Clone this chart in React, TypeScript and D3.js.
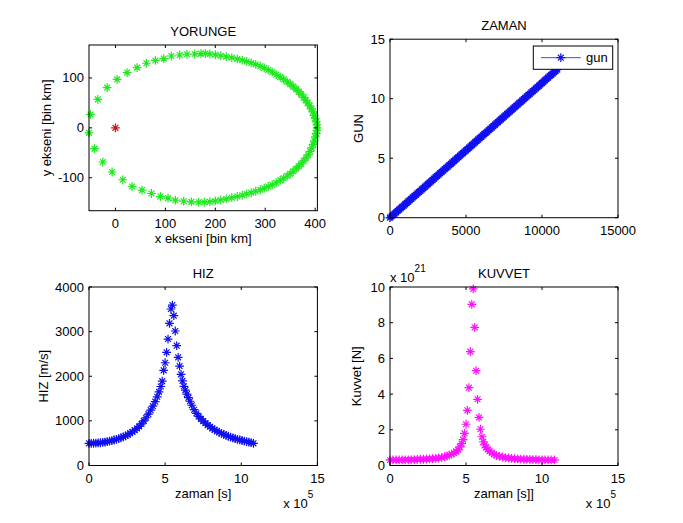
import React from 'react';
import * as d3 from 'd3';

const W = 683;
const H = 523;
const FONT = '"Liberation Sans", Arial, Helvetica, sans-serif';

// ---------- YORUNGE (orbit), thousand km ----------
const orbitX = [
  404, 403.5, 402, 400, 398, 395.5, 392.5, 389, 385, 381, 377, 372, 367, 362, 356, 350, 344, 337, 330, 322,
  314, 306, 298, 290, 281, 272, 263, 254, 244, 233, 222, 211, 200, 189, 180,
  171.3, 158.7, 143.3, 128.7, 112, 96.7, 80, 62, 43.3, 23.3, 3.3, -16.7, -35.3, -50, -53,
  -42, -25.3, -6.7, 14.7, 33.3, 53.3, 72, 90, 105.3, 120, 136.7, 152, 166.7,
  178, 189, 200, 211, 222, 233, 244, 254, 263, 272, 281, 290, 298, 306, 314, 322, 330, 337, 344, 350,
  356, 362, 367, 372, 377, 382, 386, 390, 393, 396, 398.5, 400.5, 402, 403.5,
];
const orbitY = [
  0, 6, 12, 19, 25, 32, 38, 44, 50, 55.5, 61, 67, 72.5, 77.5, 82.5, 87.5, 92, 97, 101.5, 106.5,
  111.5, 116, 120, 123.5, 127, 130, 133, 135.5, 138, 140.5, 142.5, 144.5, 146.5, 148, 149,
  148.8, 148, 147.5, 146, 144, 138.8, 135, 129.4, 120.7, 110.7, 97, 80.5, 57, 26.8, -10,
  -41.6, -68.4, -88.5, -104, -117.5, -124.7, -131.5, -137.6, -140.8, -145, -147, -148.3, -149,
  -149, -148, -146.5, -144.5, -142.5, -140, -137.5, -135, -132.5, -130, -127, -124, -121, -117.5, -114, -110, -105, -101, -96.5, -92,
  -87, -82, -77, -72, -66, -60, -54, -47, -40, -33, -26, -18, -11, -5,
];
const earthX = [0];
const earthY = [0];

// ---------- ZAMAN ----------
const zamanStep = [
  0, 100, 200, 300, 400, 500, 600, 700, 800, 900, 1000, 1100, 1200, 1300, 1400, 1500, 1600, 1700, 1800, 1900,
  2000, 2100, 2200, 2300, 2400, 2500, 2600, 2700, 2800, 2900, 3000, 3100, 3200, 3300, 3400, 3500, 3600, 3700, 3800, 3900,
  4000, 4100, 4200, 4300, 4400, 4500, 4600, 4700, 4800, 4900, 5000, 5100, 5200, 5300, 5400, 5500, 5600, 5700, 5800, 5900,
  6000, 6100, 6200, 6300, 6400, 6500, 6600, 6700, 6800, 6900, 7000, 7100, 7200, 7300, 7400, 7500, 7600, 7700, 7800, 7900,
  8000, 8100, 8200, 8300, 8400, 8500, 8600, 8700, 8800, 8900, 9000, 9100, 9200, 9300, 9400, 9500, 9600, 9700, 9800, 9900,
  10000, 10100, 10200, 10300, 10400, 10500, 10600, 10700, 10800, 10900, 11000,
];
const zamanGun = [
  0, 0.11, 0.23, 0.34, 0.45, 0.57, 0.68, 0.79, 0.91, 1.02, 1.13, 1.25, 1.36, 1.47, 1.58, 1.7, 1.81, 1.92, 2.04, 2.15,
  2.26, 2.38, 2.49, 2.6, 2.72, 2.83, 2.94, 3.06, 3.17, 3.28, 3.4, 3.51, 3.62, 3.74, 3.85, 3.96, 4.08, 4.19, 4.3, 4.41,
  4.53, 4.64, 4.75, 4.87, 4.98, 5.09, 5.21, 5.32, 5.43, 5.55, 5.66, 5.77, 5.89, 6.0, 6.11, 6.23, 6.34, 6.45, 6.57, 6.68,
  6.79, 6.91, 7.02, 7.13, 7.24, 7.36, 7.47, 7.58, 7.7, 7.81, 7.92, 8.04, 8.15, 8.26, 8.38, 8.49, 8.6, 8.72, 8.83, 8.94,
  9.06, 9.17, 9.28, 9.4, 9.51, 9.62, 9.74, 9.85, 9.96, 10.07, 10.19, 10.3, 10.41, 10.53, 10.64, 10.75, 10.87, 10.98, 11.09, 11.21,
  11.32, 11.43, 11.55, 11.66, 11.77, 11.89, 12.0, 12.11, 12.23, 12.34, 12.45,
];

// ---------- HIZ (speed), time in s ----------
const hizT = [
  0, 15000, 30000, 45000, 60000, 75000, 90000, 105000, 120000, 135000, 150000, 165000, 180000, 195000, 210000,
  225000, 240000, 255000, 270000, 285000, 300000, 315000, 330000, 345000, 360000, 375000, 390000, 405000,
  420000, 435000, 448000, 460000, 471500, 481000,
  490500, 500000, 509500, 519000, 528500, 538000, 547500, 557000, 566500, 576000, 585500, 595000, 604500,
  614000, 623500, 633000, 643000, 653000, 663000, 675000, 690000, 705000, 720000, 735000, 750000, 765000,
  780000, 795000, 810000, 825000, 840000, 855000, 870000, 885000, 900000, 915000, 930000, 945000, 960000,
  975000, 990000, 1005000, 1020000, 1035000, 1050000, 1065000, 1080000,
];
const hizV = [
  497, 497, 499, 501, 505, 510, 517, 525, 534, 545, 557, 571, 587, 604, 622,
  643, 666, 692, 722, 755, 790, 830, 875, 935, 1000, 1070, 1150, 1240,
  1330, 1430, 1540, 1650, 1770, 1890,
  2133, 2303, 2536, 2834, 3186, 3507, 3596, 3357, 3014, 2685, 2424, 2229, 2043,
  1895, 1775, 1690, 1600, 1520, 1440, 1350, 1250, 1170, 1100, 1045, 995, 950,
  905, 868, 832, 800, 770, 745, 720, 697, 675, 655, 636, 618, 602,
  587, 573, 560, 548, 537, 525, 512, 497,
];

// ---------- KUVVET (force), N ----------
const kuvvetT = [
  0, 20000, 40000, 60000, 80000, 100000, 120000, 140000, 160000, 180000, 200000, 220000, 240000, 260000, 280000,
  300000, 320000, 340000, 360000, 375000, 390000, 405000, 420000, 435000, 448000, 460000, 471500, 481000,
  490500, 500000, 509500, 519000, 528500, 538000, 547500, 557000, 566500, 576000, 585500, 595000, 604500,
  614000, 623500, 633000, 643000, 655000, 670000, 685000, 700000, 720000, 740000, 760000, 780000, 800000,
  820000, 840000, 860000, 880000, 900000, 920000, 940000, 960000, 980000, 1000000, 1020000, 1040000, 1060000, 1083000,
];
const kuvvetF = [
  0.31e21, 0.31e21, 0.31e21, 0.31e21, 0.31e21, 0.32e21, 0.32e21, 0.32e21, 0.33e21, 0.34e21, 0.35e21, 0.35e21, 0.36e21, 0.37e21, 0.38e21,
  0.4e21, 0.42e21, 0.44e21, 0.49e21, 0.53e21, 0.58e21, 0.64e21, 0.7e21, 0.78e21, 0.88e21, 1.04e21, 1.22e21, 1.45e21,
  1.8e21, 2.31e21, 3.09e21, 4.36e21, 6.38e21, 9.03e21, 9.89e21, 7.74e21, 5.31e21, 3.71e21, 2.7e21, 2.03e21, 1.61e21,
  1.33e21, 1.15e21, 1.0e21, 0.9e21, 0.8e21, 0.7e21, 0.63e21, 0.57e21, 0.51e21, 0.47e21, 0.44e21, 0.42e21, 0.4e21,
  0.38e21, 0.37e21, 0.36e21, 0.35e21, 0.34e21, 0.34e21, 0.33e21, 0.33e21, 0.32e21, 0.32e21, 0.31e21, 0.31e21, 0.31e21, 0.31e21,
];

// tick values
const orbitXTicks = [0, 100, 200, 300, 400];
const orbitYTicks = [-100, 0, 100];
const zamanXTicks = [0, 5000, 10000, 15000];
const zamanYTicks = [0, 5, 10, 15];
const timeTicks = [0, 5e5, 10e5, 15e5];
const hizYTicks = [0, 1000, 2000, 3000, 4000];
const kuvvetYTicks = [0, 2e21, 4e21, 6e21, 8e21, 10e21];

const GREEN = '#1ee81e';
const RED = '#d41414';
const BLUE = '#1010f0';
const MAGENTA = '#ff10ff';

const starPath = (r = 4.4) => {
  const d = r * 0.66;
  return `M${-r},0H${r}M0,${-r}V${r}M${-d},${-d}L${d},${d}M${-d},${d}L${d},${-d}`;
};
const STAR = starPath();

type Box = { x0: number; x1: number; y0: number; y1: number };

function Stars({ xs, ys, x, y, color, sw = 1.2 }: any) {
  return (
    <g stroke={color} strokeWidth={sw} fill="none">
      {xs.map((v: number, i: number) => (
        <path key={i} d={STAR} transform={`translate(${x(v)},${y(ys[i])})`} />
      ))}
    </g>
  );
}

function Panel({ box, xDomain, yDomain, xTicks, yTicks, xFmt, yFmt, title, xlabel, ylabel, ylabelX, render }: any) {
  const b: Box = box;
  const x = d3.scaleLinear().domain(xDomain).range([b.x0, b.x1]);
  const y = d3.scaleLinear().domain(yDomain).range([b.y1, b.y0]);
  const tl = 3;
  return (
    <g fontFamily={FONT} fontSize={13} fill="#000">
      <defs>
        <clipPath id={`clip-${title}`}>
          <rect x={b.x0 - 6} y={b.y0 - 6} width={b.x1 - b.x0 + 12} height={b.y1 - b.y0 + 12} />
        </clipPath>
      </defs>
      <rect x={b.x0} y={b.y0} width={b.x1 - b.x0} height={b.y1 - b.y0} fill="#fff" />
      <g clipPath={`url(#clip-${title})`}>{render(x, y)}</g>
      <rect x={b.x0} y={b.y0} width={b.x1 - b.x0} height={b.y1 - b.y0} fill="none" stroke="#000" strokeWidth={1} />
      {xTicks.map((t: number) => (
        <g key={'x' + t}>
          <line x1={x(t)} x2={x(t)} y1={b.y1} y2={b.y1 - tl} stroke="#000" />
          <line x1={x(t)} x2={x(t)} y1={b.y0} y2={b.y0 + tl} stroke="#000" />
          <text x={x(t)} y={b.y1 + 17} textAnchor="middle">{xFmt(t)}</text>
        </g>
      ))}
      {yTicks.map((t: number) => (
        <g key={'y' + t}>
          <line x1={b.x0} x2={b.x0 + tl} y1={y(t)} y2={y(t)} stroke="#000" />
          <line x1={b.x1} x2={b.x1 - tl} y1={y(t)} y2={y(t)} stroke="#000" />
          <text x={b.x0 - 5} y={y(t) + 4.5} textAnchor="end">{yFmt(t)}</text>
        </g>
      ))}
      <text x={(b.x0 + b.x1) / 2} y={b.y0 - 9.5} textAnchor="middle">{title}</text>
      {xlabel && (
        <text x={(b.x0 + b.x1) / 2} y={b.y1 + 32.5} textAnchor="middle">{xlabel}</text>
      )}
      {ylabel && (
        <text transform={`translate(${ylabelX},${(b.y0 + b.y1) / 2}) rotate(-90)`} textAnchor="middle">{ylabel}</text>
      )}
    </g>
  );
}

export default function App() {
  const p1: Box = { x0: 89, x1: 317.4, y0: 45, y1: 210.7 };
  const p2: Box = { x0: 390, x1: 618, y0: 39.2, y1: 217.7 };
  const p3: Box = { x0: 89, x1: 317.4, y0: 287, y1: 465.5 };
  const p4: Box = { x0: 390, x1: 618, y0: 287, y1: 465.5 };
  const fmt = (v: number) => String(v);
  const tFmt = (v: number) => String(v / 1e5);
  const fFmt = (v: number) => String(Math.round(v / 1e21));

  return (
    <svg width={W} height={H} style={{ position: 'absolute', left: 0, top: 0, background: '#fff' }}>
      <rect width={W} height={H} fill="#fff" />
      <Panel
        box={p1}
        xDomain={[-53, 404.5]}
        yDomain={[-166, 166]}
        xTicks={orbitXTicks}
        yTicks={orbitYTicks}
        xFmt={fmt}
        yFmt={fmt}
        title="YORUNGE"
        xlabel="x ekseni [bin km]"
        ylabel="y ekseni [bin km]"
        ylabelX={51}
        render={(x: any, y: any) => (
          <g>
            <Stars xs={orbitX} ys={orbitY} x={x} y={y} color={GREEN} />
            <Stars xs={earthX} ys={earthY} x={x} y={y} color={RED} />
          </g>
        )}
      />
      <Panel
        box={p2}
        xDomain={[0, 15000]}
        yDomain={[0, 15]}
        xTicks={zamanXTicks}
        yTicks={zamanYTicks}
        xFmt={fmt}
        yFmt={fmt}
        title="ZAMAN"
        ylabel="GUN"
        ylabelX={362.5}
        render={(x: any, y: any) => {
          const line = d3
            .line<number>()
            .x((d) => x(d))
            .y((_, i) => y(zamanGun[i]));
          return (
            <g>
              <path d={line(zamanStep) || ''} stroke={BLUE} strokeWidth={0.8} fill="none" />
              <Stars xs={zamanStep} ys={zamanGun} x={x} y={y} color={BLUE} sw={1.4} />
              <g>
                <rect x={533.3} y={46} width={79.4} height={23.3} fill="#fff" stroke="#000" strokeWidth={1} />
                <line x1={541} x2={580.7} y1={57.7} y2={57.7} stroke={BLUE} strokeWidth={0.8} />
                <path d={STAR} transform="translate(560.8,57.7)" stroke={BLUE} strokeWidth={1.2} fill="none" />
                <text x={586} y={62.2} fontFamily={FONT} fontSize={13}>gun</text>
              </g>
            </g>
          );
        }}
      />
      <Panel
        box={p3}
        xDomain={[0, 15e5]}
        yDomain={[0, 4000]}
        xTicks={timeTicks}
        yTicks={hizYTicks}
        xFmt={tFmt}
        yFmt={fmt}
        title="HIZ"
        xlabel="zaman [s]"
        ylabel="HIZ [m/s]"
        ylabelX={47.5}
        render={(x: any, y: any) => <Stars xs={hizT} ys={hizV} x={x} y={y} color={BLUE} />}
      />
      <Panel
        box={p4}
        xDomain={[0, 15e5]}
        yDomain={[0, 10e21]}
        xTicks={timeTicks}
        yTicks={kuvvetYTicks}
        xFmt={tFmt}
        yFmt={fFmt}
        title="KUVVET"
        xlabel="zaman [s]]"
        ylabel="Kuvvet [N]"
        ylabelX={361}
        render={(x: any, y: any) => <Stars xs={kuvvetT} ys={kuvvetF} x={x} y={y} color={MAGENTA} />}
      />
      <g fontFamily={FONT} fontSize={13} fill="#000">
        <text x={p3.x1 - 4} y={507.5} textAnchor="end">
          x 10<tspan dy={-10} fontSize={10}>5</tspan>
        </text>
        <text x={p4.x1 - 2} y={507.5} textAnchor="end">
          x 10<tspan dy={-10} fontSize={10}>5</tspan>
        </text>
        <text x={p4.x0} y={281.5}>
          x 10<tspan dy={-10} fontSize={10}>21</tspan>
        </text>
      </g>
    </svg>
  );
}
